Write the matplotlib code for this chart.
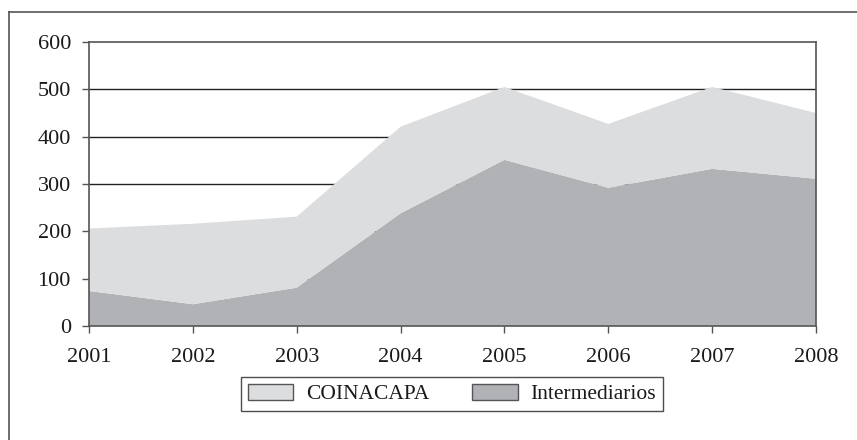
import numpy as np
import matplotlib.pyplot as plt
from matplotlib.lines import Line2D
from matplotlib.patches import Patch

years = [2001, 2002, 2003, 2004, 2005, 2006, 2007, 2008]
intermediarios = [74, 46, 81, 238, 351, 292, 332, 311]
total = [206, 216, 231, 421, 505, 427, 505, 450]
coinacapa = [t - i for t, i in zip(total, intermediarios)]

light = '#dcdddf'
dark = '#b1b2b5'
edge = '#555555'

plt.rcParams['font.family'] = ['Liberation Serif', 'DejaVu Serif']

fig = plt.figure(figsize=(8.57, 4.4), dpi=100)
ax = fig.add_axes([89 / 857, 1 - 326 / 440, (816 - 89) / 857, (326 - 42) / 440])

for y in [100, 200, 300, 400, 500]:
    ax.axhline(y, color='#222222', lw=1.0, zorder=1)

ax.stackplot(years, intermediarios, coinacapa, colors=[dark, light],
             linewidth=0, zorder=2)

ax.set_xlim(2001, 2008)
ax.set_ylim(0, 600)
ax.set_xticks(years)
ax.set_yticks(range(0, 601, 100))
ax.tick_params(direction='out', length=5, width=1, color=edge,
               labelsize=16, labelcolor='#1a1a1a')
ax.tick_params(axis='y', pad=8)
ax.tick_params(axis='x', pad=11)
for s in ax.spines.values():
    s.set_color(edge)
    s.set_linewidth(1.2)
    s.set_zorder(3)

handles = [Patch(facecolor=light, edgecolor=edge, lw=1, label='COINACAPA'),
           Patch(facecolor=dark, edgecolor=edge, lw=1, label='Intermediarios')]
leg = fig.legend(handles=handles, loc='center', ncol=2,
                 bbox_to_anchor=(452 / 857, 1 - 394 / 440),
                 fontsize=15.5, frameon=True, fancybox=False,
                 handlelength=2.1, handleheight=0.8, handletextpad=0.6,
                 columnspacing=2.0, borderpad=0.3, borderaxespad=0)
leg.get_frame().set_edgecolor('#222222')
leg.get_frame().set_linewidth(1)
for t in leg.get_texts():
    t.set_color('#1a1a1a')

# outer frame (left and top edges visible)
fig.add_artist(Line2D([9 / 857, 9 / 857], [0, 1 - 12 / 440],
                      transform=fig.transFigure, color=edge, lw=1.2))
fig.add_artist(Line2D([9 / 857, 1], [1 - 12 / 440, 1 - 12 / 440],
                      transform=fig.transFigure, color=edge, lw=1.2))

fig.savefig('out.png', dpi=100)
